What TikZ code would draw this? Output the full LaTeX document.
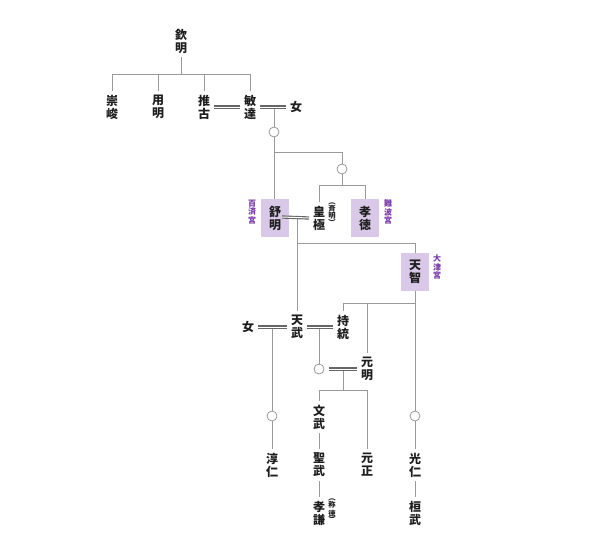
\documentclass[tikz,border=0pt]{standalone}
\usepackage{fontspec}
\setmainfont{Noto Sans CJK JP}
\usetikzlibrary{calc}
\definecolor{lnc}{HTML}{9A9A9A}
\definecolor{dlc}{HTML}{666666}
\definecolor{purc}{HTML}{7A3AAA}
\definecolor{boxc}{HTML}{DAC8E8}
\definecolor{txc}{HTML}{1E1E1E}
\tikzset{
  nm/.style={font=\fontsize{9}{9.75}\selectfont\bfseries, text=txc, align=center, inner sep=0pt, outer sep=3pt},
  hbox/.style={nm, fill=boxc, minimum width=21pt, minimum height=28.5pt, outer sep=0pt},
  pal/.style={font=\fontsize{6}{6.6}\selectfont\bfseries, text=purc, align=center, inner sep=0pt},
  paren/.style={font=\fontsize{5.5}{5.2}\selectfont\bfseries, text=txc, align=center, inner sep=0pt},
  circ/.style={circle, draw=lnc, line width=0.6pt, minimum size=7.5pt, inner sep=0pt, outer sep=0pt},
  ln/.style={draw=lnc, line width=0.6pt},
  dbl/.style={draw=dlc, line width=0.85pt, double=white, double distance=0.75pt}
}
\begin{document}
\begin{tikzpicture}[x=0.75pt,y=-0.75pt]
\useasboundingbox (0,0) rectangle (600,558);
% nodes
\node[nm] (kinmei) at (181,41) {欽\\明};
\node[nm] (sushun) at (112,107) {崇\\峻};
\node[nm] (youmei) at (158,107) {用\\明};
\node[nm] (suiko) at (204,107) {推\\古};
\node[nm] (bidatsu) at (250,107) {敏\\達};
\node[nm] (onna1) at (296,107) {女};
\node[circ] (c1) at (274,132) {};
\node[circ] (c2) at (342,169) {};
\node[hbox] (jomei) at (275,218) {舒\\明};
\node[nm] (kogyoku) at (319,218) {皇\\極};
\node[paren] (saimei) at (332,214) {︵\\斉\\明\\︶};
\node[hbox] (kotoku) at (365,218) {孝\\徳};
\node[pal] (kudara) at (252,212) {百\\済\\宮};
\node[pal] (naniwa) at (388,212) {難\\波\\宮};
\node[hbox] (tenji) at (415,272) {天\\智};
\node[pal] (otsu) at (437,267) {大\\津\\宮};
\node[nm] (onna2) at (248,327) {女};
\node[nm] (tenmu) at (297,327) {天\\武};
\node[nm] (jito) at (343,327) {持\\統};
\node[circ] (c3) at (319,369) {};
\node[nm] (genmei) at (367,369) {元\\明};
\node[circ] (c4) at (272,416) {};
\node[circ] (c5) at (415,416) {};
\node[nm] (monmu) at (319,417) {文\\武};
\node[nm] (junnin) at (272,465) {淳\\仁};
\node[nm] (shomu) at (319,465) {聖\\武};
\node[nm] (gensho) at (367,465) {元\\正};
\node[nm] (konin) at (415,465) {光\\仁};
\node[nm] (koken) at (319,513) {孝\\謙};
\node[paren] (shotoku) at (332,511) {︵\\称\\徳\\︶};
\node[nm] (kanmu) at (415,513) {桓\\武};
% junctions
\coordinate (j0) at (181,74);
\coordinate (m1) at (274,107);
\coordinate (j1) at (274,152);
\coordinate (j2) at (342,185);
\coordinate (jx) at (282,217);
\coordinate (m3) at (297,217);
\coordinate (j3) at (297,243);
\coordinate (j4) at (415,303);
\coordinate (m4) at (272,327);
\coordinate (m5) at (319,327);
\coordinate (m6) at (343,369);
\coordinate (j5) at (343,390);
% connectors
\draw[ln] (kinmei.south) -- (j0);
\draw[ln] (sushun.north) -- (sushun.north |- j0) -- (bidatsu.north |- j0) -- (bidatsu.north);
\draw[ln] (youmei.north) -- (youmei.north |- j0);
\draw[ln] (suiko.north) -- (suiko.north |- j0);
\draw[ln] (m1) -- (c1.north);
\draw[ln] (c1.south) -- (c1.south |- jomei.north);
\draw[ln] (j1) -| (c2.north);
\draw[ln] (c2.south) -- (j2);
\draw[ln] (kogyoku.north) -- (kogyoku.north |- j2) -- (kotoku.north |- j2) -- (kotoku.north);
\draw[ln] (m3) -- (tenmu.north);
\draw[ln] (j3) -| (tenji.north);
\draw[ln] (tenji.south) -- (c5.north);
\draw[ln] (jito.north) |- (j4);
\draw[ln] (genmei.north) -- (genmei.north |- j4);
\draw[ln] (m4) -- (c4.north);
\draw[ln] (m5) -- (c3.north);
\draw[ln] (m6) -- (j5);
\draw[ln] (monmu.north) -- (monmu.north |- j5) -- (gensho.north |- j5) -- (gensho.north);
\draw[ln] (monmu.south) -- (shomu.north);
\draw[ln] (shomu.south) -- (koken.north);
\draw[ln] (c4.south) -- (junnin.north);
\draw[ln] (c5.south) -- (konin.north);
\draw[ln] (konin.south) -- (kanmu.north);
% marriage lines
\draw[dbl] (suiko.east) -- (bidatsu.west);
\draw[dbl] (bidatsu.east) -- (onna1.west);
\draw[dbl] (jx) -- (kogyoku.west);
\draw[dbl] (onna2.east) -- (tenmu.west);
\draw[dbl] (tenmu.east) -- (jito.west);
\draw[dbl] ($(c3.east)+(5,0)$) -- (genmei.west);
\end{tikzpicture}
\end{document}
